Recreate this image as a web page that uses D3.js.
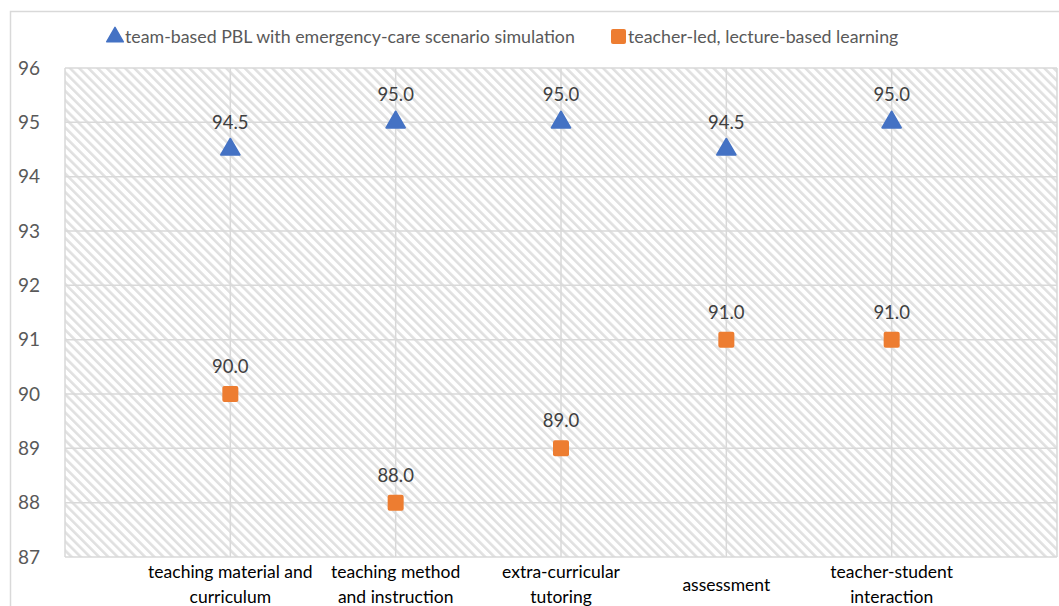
<!DOCTYPE html>
<html><head><meta charset="utf-8">
<script src="https://cdn.jsdelivr.net/npm/d3@7"></script>
<style>body{margin:0;background:#fff}svg{display:block}</style>
</head><body>
<script>
const categories = [["teaching material and","curriculum"],["teaching method","and instruction"],["extra-curricular","tutoring"],["assessment"],["teacher-student","interaction"]];
const seriesNames = ["team-based PBL with emergency-care scenario simulation","teacher-led, lecture-based learning"];
const pblValues = [94.5, 95.0, 95.0, 94.5, 95.0];
const lectureValues = [90.0, 88.0, 89.0, 91.0, 91.0];
const yTicks = [87,88,89,90,91,92,93,94,95,96];

(function(){
const W=1059,H=606;
const svg=d3.select("body").append("svg").attr("width",W).attr("height",H);
const font="Lato, 'Open Sans', sans-serif";

svg.append("rect").attr("x",10.5).attr("y",11.5).attr("width",1060).attr("height",620)
  .attr("fill","#fff").attr("stroke","#d9d9d9").attr("stroke-width",1.5);

const pL=65,pR=1057,pT=68,pB=557;
const x=d3.scaleLinear().domain([0,6]).range([pL,pR]);
const y=d3.scaleLinear().domain([87,96]).range([pB,pT]);

const defs=svg.append("defs");
const pat=defs.append("pattern").attr("id","hatch").attr("patternUnits","userSpaceOnUse")
  .attr("width",6.5).attr("height",6.5).attr("patternTransform","rotate(-45)");
pat.append("rect").attr("width",6.5).attr("height",6.5).attr("fill","#fff");
pat.append("rect").attr("x",0).attr("y",0).attr("width",2.6).attr("height",6.5).attr("fill","#e0e0e0");

svg.append("rect").attr("x",pL).attr("y",pT).attr("width",pR-pL).attr("height",pB-pT)
  .attr("fill","url(#hatch)");

const g=svg.append("g");
g.selectAll("line.h").data(yTicks).join("line").attr("class","h")
  .attr("x1",pL).attr("x2",pR).attr("y1",d=>y(d)).attr("y2",d=>y(d))
  .attr("stroke","#d9d9d9").attr("stroke-width",1.5);
g.selectAll("line.v").data(d3.range(0,7)).join("line").attr("class","v")
  .attr("x1",d=>x(d)).attr("x2",d=>x(d)).attr("y1",pT).attr("y2",pB)
  .attr("stroke","#d9d9d9").attr("stroke-width",1.5);

const yAxis=d3.axisLeft(y).tickValues(yTicks).tickSize(0).tickPadding(25);
const ya=svg.append("g").attr("transform",`translate(${pL},0)`).call(yAxis);
ya.select(".domain").remove();
ya.selectAll("text").attr("font-family",font).attr("font-size",19).attr("fill","#595959");

const xl=svg.append("g");
categories.forEach((c,i)=>{
  const cx=x(i+1);
  const t=xl.append("text").attr("text-anchor","middle").attr("font-family",font)
    .attr("font-size",17.5).attr("fill","#000");
  if(c.length===1){
    t.append("tspan").attr("x",cx).attr("y",591).text(c[0]);
  } else {
    c.forEach((ln,j)=>t.append("tspan").attr("x",cx).attr("y",578+j*25).text(ln));
  }
});

const tri=d3.symbol().type(d3.symbolTriangle).size(150);
svg.selectAll("path.pbl").data(pblValues).join("path").attr("class","pbl")
  .attr("transform",(d,i)=>`translate(${x(i+1)},${y(d)})`)
  .attr("d",tri).attr("fill","#4472C4").attr("stroke","#4472C4").attr("stroke-width",2).attr("stroke-linejoin","round");
svg.selectAll("rect.lec").data(lectureValues).join("rect").attr("class","lec")
  .attr("x",(d,i)=>x(i+1)-8).attr("y",d=>y(d)-8).attr("width",16).attr("height",16).attr("rx",2)
  .attr("fill","#ED7D31");

svg.selectAll("text.pl").data(pblValues).join("text").attr("class","pl")
  .attr("x",(d,i)=>x(i+1)).attr("y",d=>y(d)-21).attr("text-anchor","middle")
  .attr("font-family",font).attr("font-size",18.5).attr("fill","#404040").text(d=>d.toFixed(1));
svg.selectAll("text.ll").data(lectureValues).join("text").attr("class","ll")
  .attr("x",(d,i)=>x(i+1)).attr("y",d=>y(d)-21).attr("text-anchor","middle")
  .attr("font-family",font).attr("font-size",18.5).attr("fill","#404040").text(d=>d.toFixed(1));

const lg=svg.append("g");
lg.append("path").attr("transform","translate(115,37)").attr("d",d3.symbol().type(d3.symbolTriangle).size(120))
  .attr("fill","#4472C4").attr("stroke","#4472C4").attr("stroke-width",1.5).attr("stroke-linejoin","round");
lg.append("text").attr("x",125).attr("y",43).attr("font-family",font).attr("font-size",17.8).attr("fill","#595959").text(seriesNames[0]);
lg.append("rect").attr("x",611).attr("y",29).attr("width",15).attr("height",15).attr("rx",2).attr("fill","#ED7D31");
lg.append("text").attr("x",628).attr("y",43).attr("font-family",font).attr("font-size",17.8).attr("fill","#595959").text(seriesNames[1]);
})();
</script>
</body></html>
